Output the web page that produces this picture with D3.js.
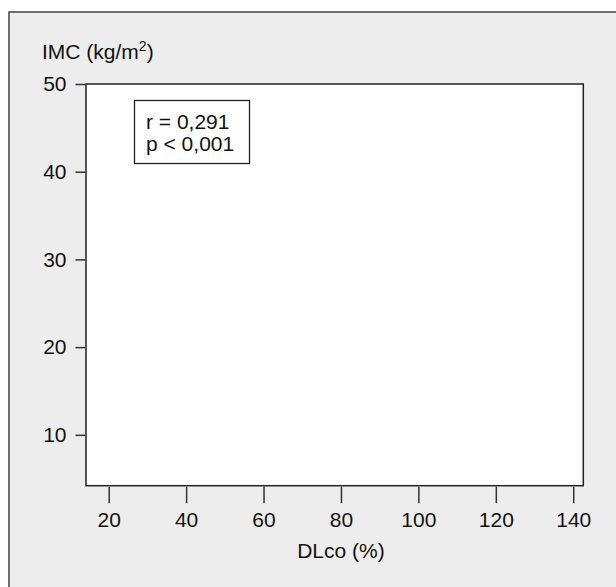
<!DOCTYPE html>
<html>
<head>
<meta charset="utf-8">
<script src="https://cdn.jsdelivr.net/npm/d3@7"></script>
<style>
	body { margin: 0; background: #fff; }
	text { font-family: "Liberation Sans", Arial, sans-serif; fill: #111; }
</style>
</head>
<body>
<div id="chart"></div>
<script>
var xTicks = [20, 40, 60, 80, 100, 120, 140];
var yTicks = [10, 20, 30, 40, 50];
var xDomain = [14.14, 142.6];
var yDomain = [4.2, 50];
var statLines = ["r = 0,291", "p < 0,001"];
var xTitle = "DLco (%)";

var width = 616;
var height = 587;
var fs = 21;

var svg = d3.select("#chart")
	.append("svg")
	.attr("width", width)
	.attr("height", height);

// outer panel, runs off the right and bottom edges
svg.append("rect")
	.attr("x", 9)
	.attr("y", 12)
	.attr("width", 620)
	.attr("height", 600)
	.attr("fill", "#ededed")
	.attr("stroke", "#444")
	.attr("stroke-width", 1.5);

var pLeft = 86, pRight = 583.3, pTop = 84, pBottom = 485.7;

var x = d3.scaleLinear().domain(xDomain).range([pLeft, pRight]);
var y = d3.scaleLinear().domain(yDomain).range([pBottom, pTop]);

svg.append("rect")
	.attr("x", pLeft)
	.attr("y", pTop)
	.attr("width", pRight - pLeft)
	.attr("height", pBottom - pTop)
	.attr("fill", "#fff")
	.attr("stroke", "#222")
	.attr("stroke-width", 1.5);

var yAxis = svg.append("g")
	.attr("transform", "translate(" + (pLeft - 0.5) + ",0)")
	.call(d3.axisLeft(y).tickValues(yTicks).tickSize(10).tickPadding(9));
yAxis.select(".domain").remove();

var xAxis = svg.append("g")
	.attr("transform", "translate(0," + (pBottom + 1) + ")")
	.call(d3.axisBottom(x).tickValues(xTicks).tickSize(16.5).tickPadding(9));
xAxis.select(".domain").remove();

svg.selectAll(".tick line").attr("stroke", "#333").attr("stroke-width", 1.5);
svg.selectAll(".tick text")
	.attr("font-size", fs)
	.attr("font-family", "'Liberation Sans', Arial, sans-serif")
	.attr("fill", "#111");

svg.append("text")
	.attr("x", x(80))
	.attr("y", 558)
	.attr("text-anchor", "middle")
	.attr("font-size", fs)
	.text(xTitle);

var yt = svg.append("text")
	.attr("x", 42)
	.attr("y", 59)
	.attr("font-size", fs);
yt.append("tspan").text("IMC (kg/m");
yt.append("tspan").attr("font-size", 14).attr("dy", -8).text("2");
yt.append("tspan").attr("dy", 8).text(")");

// statistics box
svg.append("rect")
	.attr("x", 134.5)
	.attr("y", 100.5)
	.attr("width", 115)
	.attr("height", 63)
	.attr("fill", "#fff")
	.attr("stroke", "#222")
	.attr("stroke-width", 1.3);

svg.selectAll(".stat")
	.data(statLines)
	.enter()
	.append("text")
	.attr("class", "stat")
	.attr("x", 146)
	.attr("y", function(d, i) { return 128.5 + i * 22.3; })
	.attr("font-size", fs)
	.text(function(d) { return d; });
</script>
</body>
</html>
